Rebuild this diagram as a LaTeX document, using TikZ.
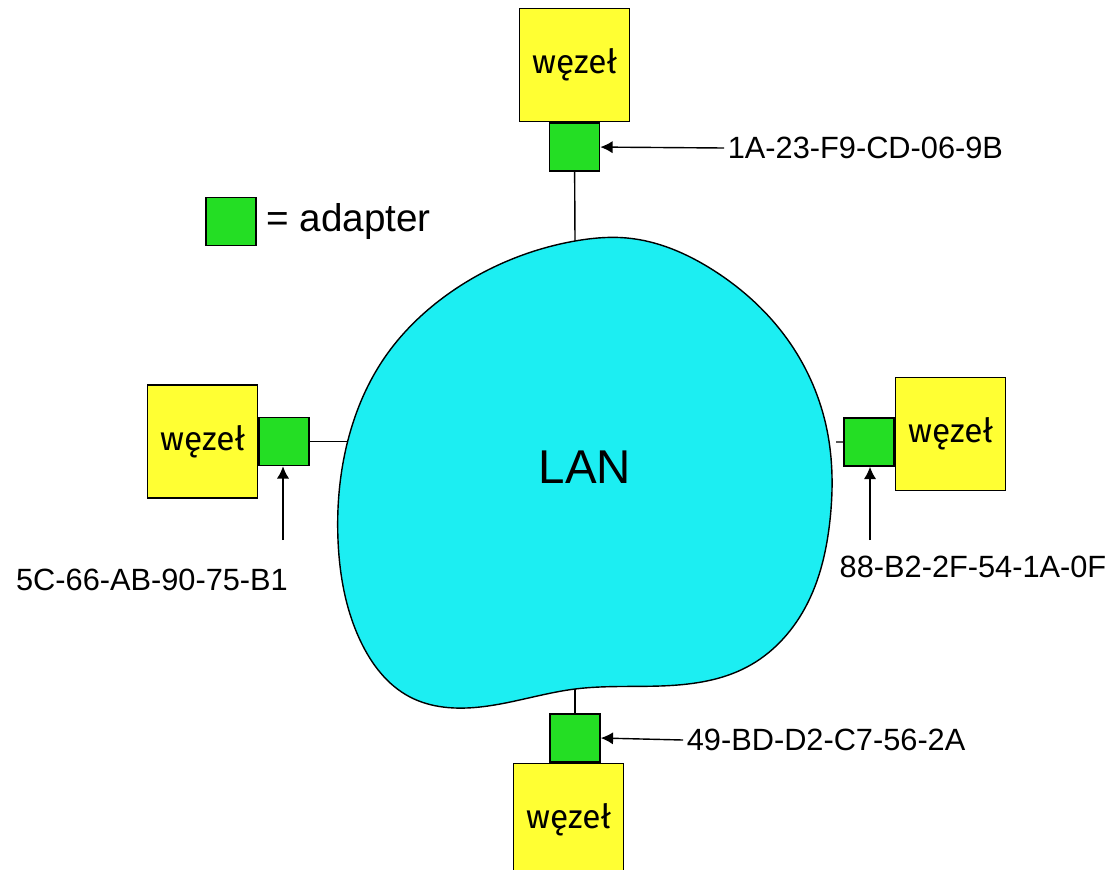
\documentclass[tikz,border=0pt]{standalone}
\usepackage{fontspec}
\setmainfont{Liberation Sans}
\newfontfamily\wezelfont{Fira Sans}
\usetikzlibrary{positioning,arrows.meta,hobby}
\definecolor{nodeyellow}{RGB}{255,255,51}
\definecolor{adaptergreen}{RGB}{36,222,36}
\definecolor{lancyan}{RGB}{28,238,242}
\tikzset{
  wezel/.style={rectangle, draw=black, fill=nodeyellow, line width=0.9pt, minimum width=2.2cm, minimum height=2.26cm, inner sep=0pt, font=\wezelfont\fontsize{19}{21}\selectfont},
  adapter/.style={rectangle, draw=black, fill=adaptergreen, line width=0.9pt, minimum width=1cm, minimum height=0.96cm, inner sep=0pt},
  mac/.style={font=\fontsize{17.5}{20}\selectfont, inner sep=2pt},
  pointer/.style={-{Latex[length=7pt,width=7pt]}, line width=0.8pt},
  wire/.style={line width=0.8pt}
}

\begin{document}
\begin{tikzpicture}[x=0.02cm, y=-0.02cm]
\clip (0,0) rectangle (1114,869);

% LAN cloud
\draw[fill=lancyan, line width=0.8pt, use Hobby shortcut, closed=true]
  (575,241) .. (627,238) .. (713,270) .. (790,343) .. (827,430) .. (830,520)
  .. (805,608) .. (747,667) .. (660,686) .. (575,689) .. (480,707)
  .. (410,697) .. (360,640) .. (338,540) .. (348,440) .. (385,357)
  .. (440,300) .. (505,262);
\node[font=\fontsize{27}{29}\selectfont] (lan) at (585,467) {LAN};

% Legend
\node[adapter] (legendadapter) at (231,221.5) {};
\node[font=\fontsize{22}{24}\selectfont, right=2pt of legendadapter] (legendtext) {= adapter};

% Top node
\node[wezel] (topnode) at (574.5,65) {węzeł};
\node[adapter, below=0pt of topnode] (topadapter) {};
\coordinate (lantop) at (575,241);
\draw[wire] (topadapter) -- (lantop);
\node[mac, anchor=west] (toplabel) at (724,148) {1A-23-F9-CD-06-9B};
\draw[pointer] (toplabel.west) -- (topadapter.east);

% Left node
\node[wezel] (leftnode) at (202.5,441.5) {węzeł};
\node[adapter, right=0pt of leftnode] (leftadapter) {};
\coordinate (lanleft) at (348,441.5);
\draw[wire] (leftadapter) -- (lanleft);
\node[mac] (leftlabel) at (152,580) {5C-66-AB-90-75-B1};
\coordinate (leftfoot) at (283,540);
\draw[pointer] (leftfoot) -- (leftadapter.south -| leftfoot);

% Right node
\node[wezel] (rightnode) at (950.5,434) {węzeł};
\node[adapter, left=0pt of rightnode, yshift=-0.16cm] (rightadapter) {};
\coordinate (lanright) at (836,442);
\draw[wire] (lanright) -- (rightadapter);
\node[mac] (rightlabel) at (973,567) {88-B2-2F-54-1A-0F};
\coordinate (rightfoot) at (870,540);
\draw[pointer] (rightfoot) -- (rightadapter.south -| rightfoot);

% Bottom node
\node[adapter] (botadapter) at (575,738) {};
\node[wezel, below=0pt of botadapter, xshift=-0.13cm] (botnode) {węzeł};
\coordinate (lanbottom) at (575,689);
\draw[wire] (lanbottom) -- (botadapter);
\node[mac, anchor=west] (botlabel) at (683,740) {49-BD-D2-C7-56-2A};
\draw[pointer] (botlabel.west) -- (botadapter.east);

\end{tikzpicture}
\end{document}
